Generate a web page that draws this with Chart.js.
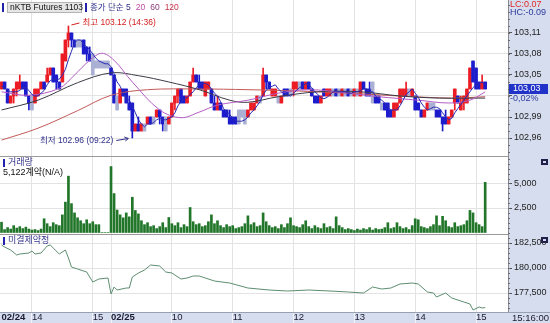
<!DOCTYPE html>
<html>
<head>
<meta charset="utf-8">
<script src="https://cdn.jsdelivr.net/npm/chart.js@4.4.0/dist/chart.umd.min.js"></script>
<style>
html, body { margin: 0; padding: 0; background: #fff; }
#wrap { position: relative; width: 550px; height: 323px; overflow: hidden; }
canvas { position: absolute; left: 0; }
</style>
</head>
<body>
<div id="wrap">
  <canvas id="price" width="550" height="156" style="top:0"></canvas>
  <canvas id="volume" width="550" height="78" style="top:156px"></canvas>
  <canvas id="oi" width="550" height="89" style="top:234px"></canvas>
</div>
<script>
// 3-minute bars: 02/24 13:30-15:15 (0-35), 02/25 09:00-15:09 (36-159), rest empty
const SLOTS = 167;
const xTickAt = [0, 10, 30, 36, 56, 76, 96, 116, 136, 156];
const xTickText = ['02/24', '14', '15', '02/25', '10', '11', '12', '13', '14', '15'];

const open = [103.03,103.04,103.03,103.01,103.02,103.03,103.03,103.04,103.04,103.02,103.01,103.01,103.02,103.03,103.04,103.04,103.05,103.06,103.05,103.04,103.04,103.07,103.10,103.11,103.10,103.10,103.10,103.10,103.09,103.08,103.07,103.07,103.06,103.07,103.06,103.07,
  103.06,103.05,103.01,103.01,103.03,103.03,103.01,103.01,102.97,102.98,102.97,102.98,102.98,102.99,102.98,102.99,103.00,102.99,102.98,102.98,102.99,103.01,103.02,103.03,103.02,103.01,103.02,103.04,103.05,103.04,103.04,103.02,103.03,103.03,
  103.01,103.00,103.01,103.00,103.00,102.99,102.99,102.99,102.99,102.99,102.99,102.99,103.00,103.00,103.01,103.02,103.02,103.05,103.04,103.02,103.02,103.02,103.01,103.03,103.03,103.02,103.03,103.03,103.04,103.04,103.03,103.04,103.03,103.02,
  103.02,103.01,103.03,103.02,103.02,103.03,103.03,103.02,103.02,103.03,103.03,103.02,103.02,103.03,103.02,103.04,103.03,103.03,103.02,103.02,103.02,103.01,103.01,103.01,103.00,102.99,103.00,103.01,103.02,103.02,103.03,103.02,103.02,103.01,
  103.00,102.99,103.00,103.01,103.01,103.00,103.00,102.99,102.99,102.98,102.99,103.01,103.02,103.00,103.01,103.01,103.03,103.07,103.06,103.04,103.03,103.04];
const high = [103.04,103.04,103.03,103.02,103.03,103.04,103.05,103.04,103.04,103.02,103.02,103.03,103.03,103.04,103.04,103.06,103.06,103.06,103.05,103.04,103.08,103.10,103.12,103.11,103.10,103.10,103.10,103.10,103.09,103.09,103.08,103.07,103.07,103.07,103.07,103.07,
  103.06,103.05,103.02,103.03,103.03,103.03,103.02,103.01,102.98,102.99,102.98,102.98,102.99,102.99,102.99,103.00,103.00,102.99,102.99,102.99,103.01,103.02,103.03,103.03,103.02,103.02,103.04,103.06,103.05,103.05,103.04,103.04,103.04,103.03,
  103.02,103.02,103.01,103.00,103.00,103.00,102.99,102.99,103.00,103.00,103.00,103.00,103.01,103.01,103.02,103.02,103.06,103.05,103.04,103.03,103.03,103.02,103.02,103.03,103.03,103.03,103.04,103.04,103.04,103.04,103.04,103.04,103.03,103.02,
  103.02,103.02,103.03,103.03,103.03,103.03,103.03,103.03,103.03,103.03,103.03,103.03,103.03,103.03,103.04,103.04,103.03,103.04,103.04,103.02,103.02,103.01,103.01,103.01,103.00,103.01,103.01,103.03,103.03,103.04,103.03,103.03,103.02,103.01,
  103.00,103.00,103.01,103.01,103.01,103.00,103.00,102.99,103.00,102.99,103.00,103.03,103.02,103.02,103.02,103.03,103.06,103.07,103.06,103.04,103.05,103.04];
const low = [103.03,103.03,103.01,103.01,103.01,103.02,103.03,103.03,103.02,103.00,103.00,103.01,103.02,103.03,103.03,103.04,103.05,103.04,103.03,103.03,103.04,103.07,103.09,103.09,103.09,103.09,103.09,103.08,103.07,103.07,103.05,103.06,103.06,103.06,103.06,103.06,
  103.05,103.01,103.00,103.01,103.02,103.01,103.00,102.96,102.97,102.97,102.97,102.97,102.98,102.98,102.98,102.99,102.98,102.97,102.97,102.98,102.99,103.00,103.01,103.01,103.01,103.01,103.02,103.04,103.04,103.03,103.03,103.02,103.03,103.01,
  103.00,103.00,103.00,102.99,102.99,102.98,102.98,102.98,102.98,102.99,102.98,102.99,103.00,103.00,103.01,103.01,103.02,103.03,103.03,103.02,103.02,103.01,103.01,103.02,103.02,103.02,103.02,103.03,103.03,103.03,103.03,103.03,103.02,103.01,
  103.01,103.01,103.02,103.02,103.02,103.02,103.02,103.02,103.02,103.02,103.02,103.02,103.02,103.02,103.02,103.03,103.02,103.02,103.01,103.01,103.01,103.00,103.00,102.99,102.99,102.99,103.00,103.01,103.02,103.02,103.02,103.02,103.00,103.00,
  102.99,102.99,103.00,103.00,103.00,102.99,102.99,102.97,102.98,102.98,102.99,103.00,103.01,103.00,103.00,103.01,103.03,103.04,103.03,103.03,103.03,103.03];
const close = [103.04,103.03,103.01,103.02,103.03,103.04,103.04,103.03,103.02,103.01,103.01,103.03,103.03,103.04,103.03,103.05,103.06,103.04,103.04,103.03,103.08,103.10,103.11,103.10,103.09,103.10,103.10,103.08,103.08,103.07,103.07,103.07,103.06,103.07,103.06,103.07,
  103.05,103.01,103.01,103.03,103.02,103.01,103.00,102.97,102.98,102.97,102.98,102.98,102.99,102.98,102.98,103.00,102.99,102.98,102.98,102.99,103.01,103.02,103.03,103.01,103.01,103.02,103.04,103.05,103.04,103.03,103.03,103.04,103.04,103.01,
  103.00,103.01,103.00,102.99,102.99,102.98,102.98,102.98,102.99,102.99,102.99,103.00,103.01,103.01,103.02,103.02,103.05,103.04,103.03,103.03,103.03,103.02,103.02,103.02,103.02,103.02,103.04,103.04,103.04,103.03,103.04,103.03,103.02,103.01,
  103.01,103.02,103.02,103.03,103.03,103.03,103.02,103.02,103.03,103.03,103.02,103.02,103.03,103.03,103.04,103.03,103.02,103.02,103.02,103.01,103.01,103.01,103.00,102.99,102.99,103.01,103.01,103.03,103.03,103.03,103.03,103.03,103.00,103.00,
  102.99,103.00,103.01,103.01,103.01,102.99,102.99,102.98,102.98,102.99,103.00,103.03,103.01,103.01,103.02,103.03,103.06,103.04,103.03,103.03,103.04,103.03];

const volume = [1050,300,500,350,700,450,600,400,550,350,250,300,200,350,1400,900,600,1000,800,700,1800,3100,5750,2950,2000,1500,1200,900,1300,900,1100,800,800,0,0,0,
  6730,3970,2300,1800,1500,2000,1600,3600,2250,1900,1200,800,1000,600,700,400,600,1000,500,1530,900,700,1000,500,800,600,2550,1100,800,900,600,700,1100,1800,
  900,1200,700,500,800,600,700,400,500,600,900,1700,800,1000,600,700,2000,1100,700,500,600,400,800,500,900,1500,700,600,500,800,1200,600,400,700,500,400,
  900,500,600,400,1600,700,500,300,400,300,200,350,250,400,300,500,250,400,300,350,500,1000,400,500,1000,600,400,500,300,700,1400,1300,600,500,400,600,
  800,1700,700,1650,1200,600,500,1000,600,700,800,1200,2250,2000,1000,800,600,5122];

const ma5 = [103.034,103.032,103.028,103.026,103.026,103.026,103.028,103.032,103.032,103.028,103.022,103.020,103.020,103.024,103.028,103.036,103.042,103.044,103.044,103.044,103.050,103.058,103.072,103.084,103.096,103.100,103.100,103.094,103.090,103.086,103.080,103.074,103.070,103.068,103.066,103.066,
  103.062,103.052,103.040,103.034,103.024,103.016,103.014,103.006,102.996,102.986,102.980,102.976,102.980,102.980,102.982,102.986,102.988,102.986,102.986,102.988,102.990,102.996,103.006,103.012,103.016,103.018,103.022,103.026,103.032,103.036,103.038,103.038,103.036,103.030,
  103.024,103.020,103.012,103.002,102.998,102.994,102.988,102.984,102.984,102.984,102.986,102.990,102.996,103.000,103.006,103.012,103.022,103.028,103.032,103.034,103.036,103.030,103.026,103.024,103.022,103.020,103.024,103.028,103.032,103.034,103.038,103.036,103.032,103.026,
  103.022,103.018,103.016,103.018,103.022,103.026,103.026,103.026,103.026,103.026,103.024,103.024,103.026,103.026,103.028,103.030,103.030,103.028,103.026,103.020,103.016,103.014,103.010,103.004,103.000,103.000,103.000,103.006,103.014,103.022,103.026,103.030,103.024,103.018,
  103.010,103.004,103.000,103.002,103.004,103.004,103.002,102.996,102.990,102.986,102.988,102.996,103.002,103.008,103.014,103.020,103.026,103.032,103.036,103.038,103.040,103.034];
const ma20At = [0, 9, 19, 24, 29, 33, 37, 43, 52, 59, 65, 71, 81, 91, 101, 114, 124, 137, 147, 154, 159];
const ma20 = [103.026,103.021,103.031,103.050,103.071,103.081,103.071,103.040,103.000,102.989,102.997,103.007,103.014,103.024,103.029,103.024,103.019,103.014,103.010,103.014,103.026];
const ma60At = [0, 12, 25, 36, 45, 55, 65, 75, 81, 91, 104, 118, 131, 144, 159];
const ma60 = [103.000,103.014,103.039,103.053,103.049,103.040,103.029,103.014,103.011,103.019,103.026,103.026,103.020,103.017,103.017];
const ma120At = [0, 12, 25, 36, 48, 65, 81, 98, 114, 131, 148, 159];
const ma120 = [102.957,102.974,102.999,103.021,103.029,103.030,103.029,103.027,103.024,103.020,103.017,103.019];

const oiAt = [0,1,3,5,6,9,10,11,13,15,16,17,19,21,22,23,25,28,30,32,35,36,37,38,41,42,43,45,47,49,52,54,56,59,61,63,65,70,75,81,88,94,101,108,114,119,122,125,128,131,135,137,140,142,143,146,148,152,154,155,157,158,159];
const oi = [182300,182100,181800,181300,181400,181500,181700,181400,181500,182200,182300,182000,181400,181800,181000,180100,179900,179600,178600,178900,
  179000,177400,178100,177800,178000,178000,179100,179500,179800,180300,180200,179600,179500,178900,179000,179200,179200,178700,178500,178000,
  177800,177700,177800,177700,177600,177500,178100,177900,178000,178400,178500,178400,177600,177500,177100,177500,177000,176600,176400,175800,
  176100,176000,176050];

const priceTicks = [102.96, 102.99, 103.02, 103.05, 103.08, 103.11];
const volTicks = [2500, 5000];
const oiTicks = [177500, 180000, 182500];

const FONT = '"Liberation Sans", "Noto Sans CJK KR", sans-serif';
const GRID = '#e3e3e3';
const AXIS_BG = '#d6ddee';
const UP = '#ec1c24', DOWN = '#1c1ccc', FLAT = '#aab0d4';
const MA5 = '#2a2ab4', MA20 = '#b45cc4', MA60 = '#3c3c48', MA120 = '#c45a5a';

const idx = close.map((c, i) => i);
const pts = (at, vals) => at.map((x, k) => ({ x: x, y: vals[k] }));
const candleColor = close.map((c, i) => c > open[i] ? UP : (c < open[i] ? DOWN : FLAT));

function xScale(showLabels) {
    return {
        type: 'linear', min: -0.5, max: SLOTS - 0.5, offset: false,
        afterBuildTicks: s => { s.ticks = xTickAt.map(v => ({ value: v })); },
        afterFit: s => {
            s.height = showLabels ? 11 : 0;
            s.paddingLeft = 0;
            s.paddingRight = 0;
        },
        grid: {
            offset: false,
            color: c => (c.tick && c.tick.value === 0) ? 'rgba(0,0,0,0)' : GRID,
            drawTicks: showLabels, tickLength: 11,
            tickColor: c => (c.tick && c.tick.value === 0) ? 'rgba(0,0,0,0)' : '#f2f4fa'
        },
        border: { display: false },
        ticks: {
            display: showLabels, autoSkip: false, maxRotation: 0, align: 'start', padding: -11,
            color: '#1a1a30',
            callback: (v, i) => xTickText[i],
            font: c => ({ family: FONT, size: 9.5, weight: xTickText[c.index] && xTickText[c.index].indexOf('/') > 0 ? 'bold' : 'normal' })
        }
    };
}

function yScale(min, max, ticks, fmt) {
    return {
        position: 'right', min: min, max: max, beginAtZero: false,
        afterBuildTicks: s => { s.ticks = ticks.map(v => ({ value: v })); },
        afterFit: s => {
            s.width = 42;
            s.paddingTop = 0;
            s.paddingBottom = 0;
        },
        grid: { color: GRID, tickLength: 4, tickColor: '#555' },
        border: { display: true, color: '#8a8a8a' },
        ticks: { callback: fmt, padding: 2, color: '#222', font: { family: FONT, size: 9 } }
    };
}

const base = {
    responsive: false, animation: false, devicePixelRatio: 1,
    layout: { padding: 0 },
    plugins: { legend: { display: false }, tooltip: { enabled: false } }
};

function paintBack(chart, band) {
    const { ctx, chartArea: a, width, height } = chart;
    ctx.save();
    ctx.fillStyle = '#fff';
    ctx.fillRect(0, 0, width, height);
    ctx.fillStyle = AXIS_BG;
    ctx.fillRect(a.right, 0, width - a.right, height);
    if (band) ctx.fillRect(0, a.bottom, width, height - a.bottom);
    ctx.restore();
}

function minorTicks(chart, step) {
    const s = chart.scales.y, { ctx, chartArea: a } = chart;
    ctx.save();
    ctx.strokeStyle = '#6a6a7a';
    ctx.lineWidth = 1;
    ctx.beginPath();
    for (let k = Math.ceil(s.min / step); k * step <= s.max; k++) {
        const y = Math.round(s.getPixelForValue(k * step)) + 0.5;
        ctx.moveTo(a.right, y);
        ctx.lineTo(a.right + 2, y);
    }
    ctx.stroke();
    ctx.restore();
}

function topBorder(chart) {
    const { ctx, chartArea: a } = chart;
    ctx.save();
    ctx.strokeStyle = '#9a9a9a';
    ctx.beginPath();
    ctx.moveTo(0, 0.5);
    ctx.lineTo(a.right, 0.5);
    ctx.stroke();
    ctx.restore();
}

function panelTitle(ctx, text, y) {
    ctx.fillStyle = '#2222aa';
    ctx.fillRect(3, y - 4, 2, 8);
    ctx.fillStyle = '#33338a';
    ctx.font = '9px ' + FONT;
    ctx.textBaseline = 'middle';
    ctx.textAlign = 'left';
    ctx.fillText(text, 8, y);
}

function icon(ctx, x, y) {
    ctx.fillStyle = '#20204a';
    ctx.fillRect(x, y, 7, 6);
    ctx.fillStyle = '#d0d6ea';
    ctx.fillRect(x + 2, y + 2, 3, 2);
}

const priceDeco = {
    id: 'priceDeco',
    beforeDraw: chart => paintBack(chart, false),
    afterDraw(chart) {
        const { ctx, chartArea: a, scales: { x, y } } = chart;
        minorTicks(chart, 0.01);
        ctx.save();
        ctx.textBaseline = 'middle';
        ctx.textAlign = 'left';
        // legend
        ctx.fillStyle = '#2222aa';
        ctx.fillRect(2, 3, 2, 9);
        ctx.fillStyle = '#e6e6e6';
        ctx.fillRect(7, 2, 75, 11);
        ctx.strokeStyle = '#b4b4b4';
        ctx.strokeRect(7.5, 2.5, 74, 10);
        ctx.font = '8.5px ' + FONT;
        ctx.fillStyle = '#111';
        ctx.fillText('nKTB Futures 1103', 10, 8);
        ctx.fillStyle = '#2222aa';
        ctx.fillRect(85, 3, 2, 9);
        let px = 90;
        [['종가 단순 5', '#30308a'], ['20', '#c04ca8'], ['60', '#8a3c78'], ['120', '#c8344c']].forEach(([t, col]) => {
            ctx.fillStyle = col;
            ctx.fillText(t, px, 8);
            px += ctx.measureText(t).width + 5;
        });
        // high / low marks
        const hi = high.indexOf(Math.max(...high));
        const lo = low.indexOf(Math.min(...low));
        const hx = x.getPixelForValue(hi), hy = y.getPixelForValue(high[hi]);
        ctx.strokeStyle = '#d42020';
        ctx.beginPath();
        ctx.moveTo(hx + 3, hy - 1);
        ctx.lineTo(hx + 11, hy - 3);
        ctx.stroke();
        ctx.fillStyle = '#d42020';
        ctx.fillText('최고 103.12 (14:36)', hx + 14, hy - 3);
        const lx = x.getPixelForValue(lo), ly = y.getPixelForValue(low[lo]);
        ctx.strokeStyle = '#30308a';
        ctx.beginPath();
        ctx.moveTo(lx - 16, ly + 2.5);
        ctx.lineTo(lx - 4, ly + 0.5);
        ctx.moveTo(lx - 8, ly - 1);
        ctx.lineTo(lx - 4, ly + 0.5);
        ctx.lineTo(lx - 7, ly + 3);
        ctx.stroke();
        ctx.fillStyle = '#30308a';
        ctx.textAlign = 'right';
        ctx.fillText('최저 102.96 (09:22)', lx - 19, ly + 3);
        ctx.textAlign = 'left';
        // right axis extras
        ctx.font = '9px ' + FONT;
        ctx.fillStyle = '#e02828';
        ctx.fillText('LC:0.07', a.right + 2, 4.5);
        ctx.fillStyle = '#2c3a9c';
        ctx.fillText('HC:-0.09', a.right + 2, 12.5);
        const last = close[close.length - 1];
        const cy = Math.round(y.getPixelForValue(last));
        ctx.fillStyle = '#2032c8';
        ctx.fillRect(a.right + 1, cy - 5, 39, 10);
        ctx.fillStyle = '#fff';
        ctx.fillText(last.toFixed(2).replace('.', ','), a.right + 5, cy);
        ctx.fillStyle = '#2c3a9c';
        ctx.fillText('-0,02%', a.right + 2, cy + 10);
        ctx.restore();
    }
};

const volDeco = {
    id: 'volDeco',
    beforeDraw: chart => paintBack(chart, false),
    afterDraw(chart) {
        const { ctx } = chart;
        minorTicks(chart, 500);
        topBorder(chart);
        ctx.save();
        panelTitle(ctx, '거래량', 7);
        ctx.fillStyle = '#111';
        ctx.fillText(volume[volume.length - 1].toLocaleString('en-US') + '계약(N/A)', 3, 17);
        icon(ctx, 541, 3);
        ctx.restore();
    }
};

const oiDeco = {
    id: 'oiDeco',
    beforeDraw: chart => paintBack(chart, true),
    afterDraw(chart) {
        const { ctx, chartArea: a, width } = chart;
        minorTicks(chart, 500);
        topBorder(chart);
        ctx.save();
        ctx.strokeStyle = '#98a0b4';
        ctx.beginPath();
        ctx.moveTo(0, a.bottom + 0.5);
        ctx.lineTo(width, a.bottom + 0.5);
        ctx.stroke();
        panelTitle(ctx, '미결제약정', 7);
        icon(ctx, 541, 3);
        ctx.fillStyle = '#1a1a30';
        ctx.font = '9.5px ' + FONT;
        ctx.fillText('15:16:00', a.right + 4, a.bottom + 6);
        ctx.restore();
    }
};

new Chart(document.getElementById('price'), {
    type: 'bar',
    data: {
        datasets: [
            { type: 'line', data: pts(idx, ma5), borderColor: MA5, borderWidth: 1, pointRadius: 0, order: 0 },
            { type: 'line', data: pts(ma20At, ma20), borderColor: MA20, borderWidth: 1, pointRadius: 0, tension: 0.35, order: 1 },
            { type: 'line', data: pts(ma60At, ma60), borderColor: MA60, borderWidth: 1, pointRadius: 0, tension: 0.35, order: 2 },
            { type: 'line', data: pts(ma120At, ma120), borderColor: MA120, borderWidth: 1, pointRadius: 0, tension: 0.35, order: 3 },
            {
                data: idx.map(i => ({ x: i, y: open[i] === close[i] ? [low[i], high[i]] : [open[i], close[i]] })),
                backgroundColor: candleColor, barThickness: 3, grouped: false, minBarLength: 1, order: 5
            },
            {
                data: idx.map(i => ({ x: i, y: [low[i], high[i]] })),
                backgroundColor: candleColor, barThickness: 1, grouped: false, minBarLength: 1, order: 6
            }
        ]
    },
    options: Object.assign({}, base, {
        scales: {
            x: xScale(false),
            y: yScale(102.9343, 103.1571, priceTicks,
                v => Math.abs(v - 103.02) < 1e-6 ? '' : v.toFixed(2).replace('.', ','))
        }
    }),
    plugins: [priceDeco]
});

new Chart(document.getElementById('volume'), {
    type: 'bar',
    data: {
        datasets: [{
            data: idx.map(i => ({ x: i, y: volume[i] })),
            backgroundColor: '#22762a', borderColor: '#165a1c', borderWidth: 0,
            barThickness: 2, grouped: false
        }]
    },
    options: Object.assign({}, base, {
        scales: {
            x: xScale(false),
            y: yScale(-153, 7806, volTicks, v => v.toLocaleString('en-US'))
        }
    }),
    plugins: [volDeco]
});

new Chart(document.getElementById('oi'), {
    type: 'line',
    data: {
        datasets: [{
            data: pts(oiAt, oi), borderColor: '#5e8e70', borderWidth: 1, pointRadius: 0, tension: 0
        }]
    },
    options: Object.assign({}, base, {
        scales: {
            x: xScale(true),
            y: yScale(175600, 183400, oiTicks, v => v.toLocaleString('en-US'))
        }
    }),
    plugins: [oiDeco]
});
</script>
</body>
</html>
